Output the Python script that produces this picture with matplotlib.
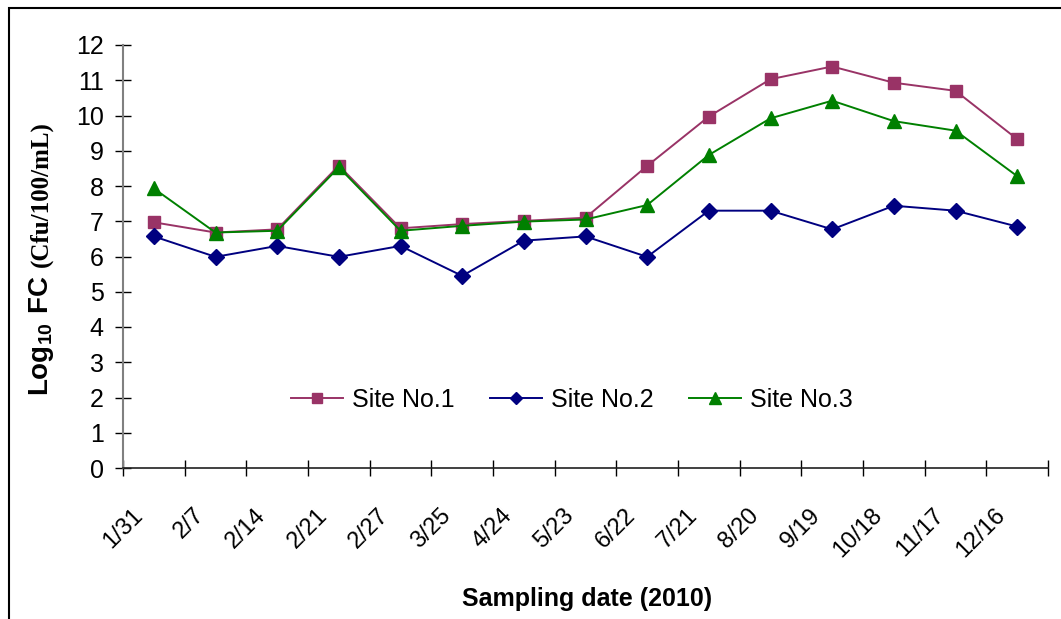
import matplotlib.pyplot as plt
import matplotlib.transforms as mtransforms
from matplotlib.patches import Rectangle

plt.rcParams['font.family'] = ['Liberation Sans', 'DejaVu Sans']
plt.rcParams['mathtext.fontset'] = 'custom'
plt.rcParams['mathtext.rm'] = 'Liberation Sans:bold'

# data
dates = ["1/31", "2/7", "2/14", "2/21", "2/27", "3/25", "4/24", "5/23",
         "6/22", "7/21", "8/20", "9/19", "10/18", "11/17", "12/16"]
site1 = [6.97, 6.68, 6.77, 8.58, 6.80, 6.92, 7.01, 7.10,
         8.57, 9.97, 11.03, 11.39, 10.93, 10.70, 9.33]
site2 = [6.57, 5.99, 6.30, 5.99, 6.30, 5.45, 6.45, 6.57,
         5.99, 7.30, 7.30, 6.77, 7.44, 7.30, 6.85]
site3 = [7.93, 6.68, 6.73, 8.53, 6.73, 6.87, 6.99, 7.05,
         7.46, 8.88, 9.92, 10.42, 9.84, 9.57, 8.28]

W, H = 1061, 619
fig = plt.figure(figsize=(W / 100, H / 100), dpi=100)
ax = fig.add_axes([123 / W, 1 - 468 / H, 925 / W, 423 / H])

x = list(range(len(dates)))
ax.plot(x, site1, color='#993366', lw=1.4, marker='s', ms=9, label='Site No.1')
ax.plot(x, site2, color='#000080', lw=1.4, marker='D', ms=8, label='Site No.2')
ax.plot(x, site3, color='#008000', lw=1.4, marker='^', ms=10, label='Site No.3')

ax.set_xlim(-0.5, len(dates) - 0.5)
ax.set_ylim(0, 12)
ax.set_yticks(range(0, 13))
ax.tick_params(axis='y', direction='inout', length=12, width=1, pad=8,
               labelsize=18)

# category boundaries as major ticks, labels on minor ticks
ax.set_xticks([i - 0.5 for i in range(len(dates) + 1)])
ax.set_xticklabels([])
ax.set_xticks(x, minor=True)
ax.set_xticklabels(dates, minor=True, rotation=45, ha='right', va='top',
                   fontsize=17)
ax.tick_params(axis='x', which='major', direction='inout', length=12, width=1)
ax.tick_params(axis='x', which='minor', length=0, pad=26)
shift = mtransforms.ScaledTranslation(-7 / 100, 0, fig.dpi_scale_trans)
for lab in ax.get_xticklabels(minor=True):
    lab.set_transform(lab.get_transform() + shift)

for s in ['top', 'right']:
    ax.spines[s].set_visible(False)
ax.spines['left'].set_color('#808080')
ax.spines['left'].set_linewidth(1.5)
ax.spines['bottom'].set_color('#202020')
ax.spines['bottom'].set_linewidth(1.2)

ax.legend(loc='center', bbox_to_anchor=(0.485, 0.161), ncol=3, frameon=False,
          fontsize=18, handlelength=2.1, handletextpad=0.35,
          columnspacing=1.4, markerscale=0.8)

ax.set_xlabel("Sampling date (2010)", fontsize=18, fontweight='bold')
ax.xaxis.set_label_coords(0.502, -0.282)

# y label: sans part + serif part, stacked along the rotated direction
r = fig.canvas.get_renderer()
t1 = fig.text(48 / W, 1 - 396 / H, r"$\mathrm{Log_{10}\ FC}$", rotation=90,
              rotation_mode='anchor', ha='left', va='baseline', fontsize=20)
bb = t1.get_window_extent(renderer=r)
t2 = fig.text(47 / W, (bb.y1 + 8) / H, "(Cfu/100/mL)", rotation=90,
              rotation_mode='anchor', ha='left', va='baseline', fontsize=18,
              fontweight='bold', family='Liberation Serif')

# outer frame (clipped at right and bottom like the original)
fig.patches.append(Rectangle((9 / W, -0.1), 1.2, 1.1 - 8 / H,
                             transform=fig.transFigure, fill=False,
                             ec='black', lw=1.5))

fig.savefig('out.png', dpi=100)
